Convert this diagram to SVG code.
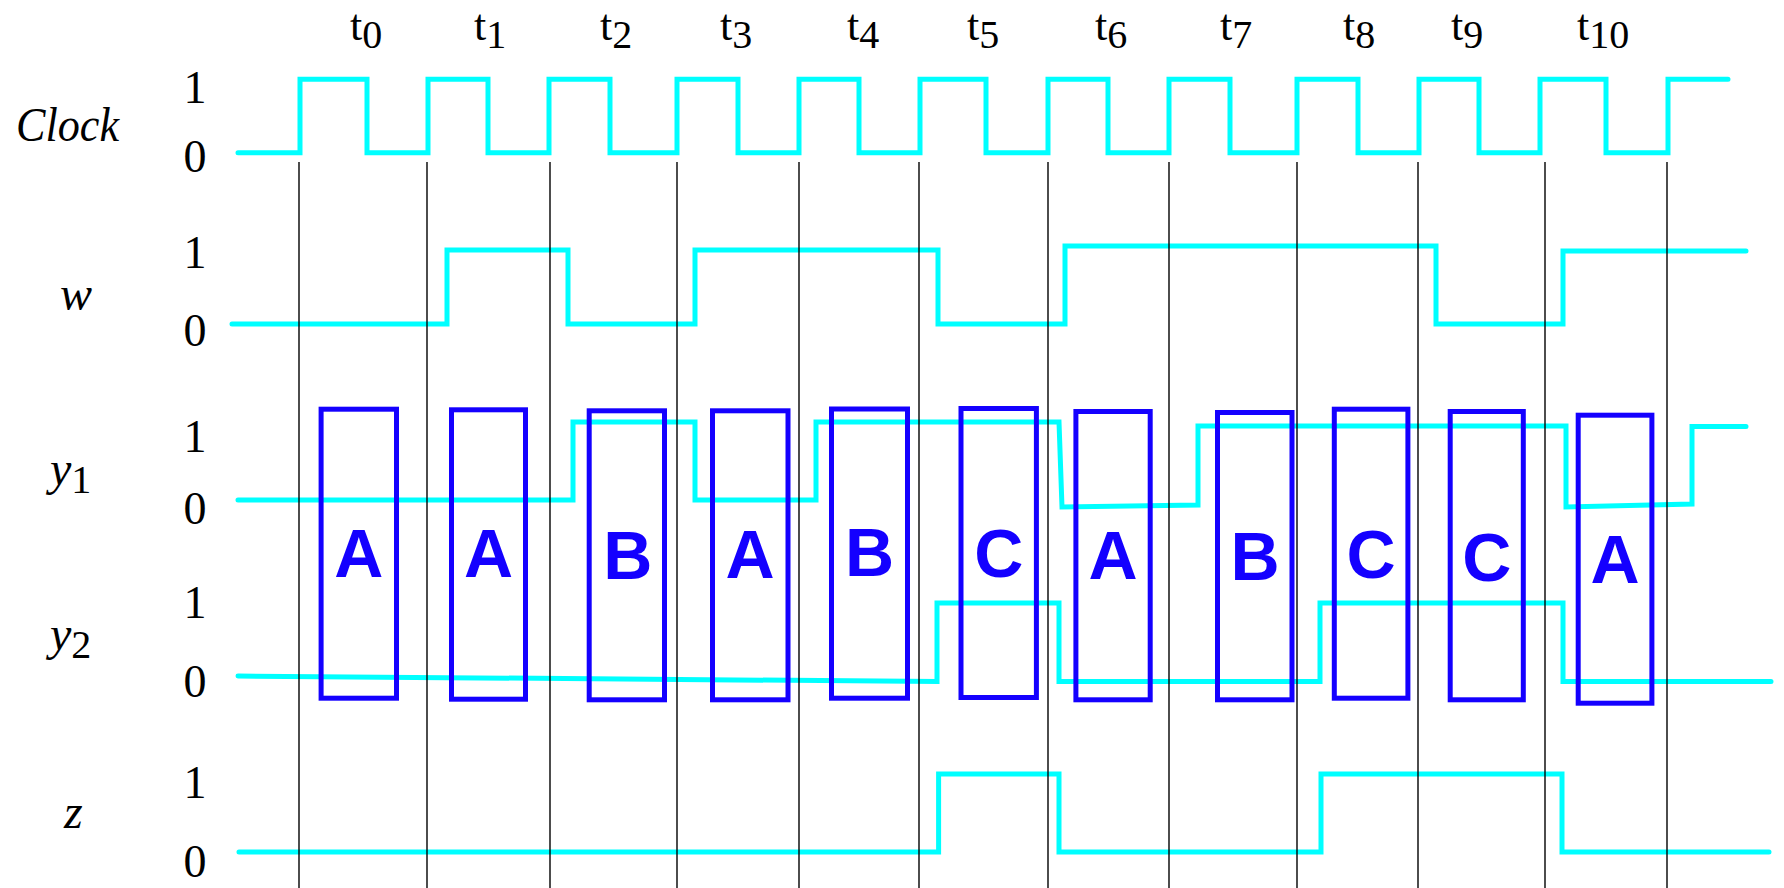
<svg xmlns="http://www.w3.org/2000/svg" width="1784" height="888" viewBox="0 0 1784 888">
<style>
.bg{fill:#ffffff}
.wave{fill:none;stroke:#00ffff;stroke-width:5;stroke-linecap:round;stroke-linejoin:miter}
.grid{stroke:#000000;stroke-width:1.4}
.box{fill:none;stroke:#1400ff;stroke-width:5}
.st{font-family:"Liberation Sans",Arial,sans-serif;font-weight:bold;font-size:68px;fill:#1400ff;text-anchor:middle}
.lvl{font-family:"Liberation Serif","Times New Roman",serif;font-size:46px;fill:#000;text-anchor:middle}
.sig{font-family:"Liberation Serif","Times New Roman",serif;font-style:italic;font-size:48px;fill:#000}
.sub{font-style:normal;font-size:40px}
.t{font-family:"Liberation Serif","Times New Roman",serif;font-size:44px;fill:#000}
.ts{font-size:40px}
</style>
<rect class="bg" x="0" y="0" width="1784" height="888"/>

<g id="time-labels">
<text class="t" x="350" y="40">t<tspan class="ts" y="48">0</tspan></text>
<text class="t" x="474" y="40">t<tspan class="ts" y="48">1</tspan></text>
<text class="t" x="600" y="40">t<tspan class="ts" y="48">2</tspan></text>
<text class="t" x="720" y="40">t<tspan class="ts" y="48">3</tspan></text>
<text class="t" x="847" y="40">t<tspan class="ts" y="48">4</tspan></text>
<text class="t" x="967" y="40">t<tspan class="ts" y="48">5</tspan></text>
<text class="t" x="1095" y="40">t<tspan class="ts" y="48">6</tspan></text>
<text class="t" x="1220" y="40">t<tspan class="ts" y="48">7</tspan></text>
<text class="t" x="1343" y="40">t<tspan class="ts" y="48">8</tspan></text>
<text class="t" x="1451" y="40">t<tspan class="ts" y="48">9</tspan></text>
<text class="t" x="1577" y="40">t<tspan class="ts" y="48">10</tspan></text>
</g>

<g id="signal-labels">
<text class="sig" x="16" y="141" textLength="103" lengthAdjust="spacingAndGlyphs">Clock</text>
<text class="sig" x="60" y="310">w</text>
<text class="sig" x="50" y="485">y<tspan class="sub" y="493">1</tspan></text>
<text class="sig" x="50" y="650">y<tspan class="sub" y="658">2</tspan></text>
<text class="sig" x="64" y="828">z</text>
</g>

<g id="level-labels">
<text class="lvl" x="195" y="103">1</text>
<text class="lvl" x="195" y="172">0</text>
<text class="lvl" x="195" y="268">1</text>
<text class="lvl" x="195" y="346">0</text>
<text class="lvl" x="195" y="452">1</text>
<text class="lvl" x="195" y="524">0</text>
<text class="lvl" x="195" y="618">1</text>
<text class="lvl" x="195" y="697">0</text>
<text class="lvl" x="195" y="798">1</text>
<text class="lvl" x="195" y="877">0</text>
</g>

<g id="waveforms">
<path id="clock" class="wave" d="M238,152.7 H300 V79.3 H367 V152.7 H428 V79.3 H488 V152.7 H549 V79.3 H610 V152.7 H677 V79.3 H738 V152.7 H799 V79.3 H859 V152.7 H920 V79.3 H986 V152.7 H1048 V79.3 H1108 V152.7 H1169 V79.3 H1230 V152.7 H1297 V79.3 H1358 V152.7 H1419 V79.3 H1479 V152.7 H1540 V79.3 H1606 V152.7 H1668 V79.3 H1728"/>
<path id="w" class="wave" d="M232,324 H447 V250 H568 V324 H695 V250 H938 V324 H1065 V246 H1436 V324 H1563 V251 H1746"/>
<path id="y1" class="wave" d="M238,500 H573 V422 H695 V500 H816 V422 H1059 L1062,507 L1198,505 V426 H1566 V507 L1692,504 V426.5 H1746"/>
<path id="y2" class="wave" d="M238,676 L937,681.5 V603 H1059 V681.5 H1320 V603 H1563 V681.5 H1771"/>
<path id="z" class="wave" d="M239,852 H938.6 V774 H1059 V852 H1321 V774 H1562 V852 H1769"/>
</g>

<g id="clock-edges">
<line class="grid" x1="299" y1="162" x2="299" y2="888"/>
<line class="grid" x1="427" y1="162" x2="427" y2="888"/>
<line class="grid" x1="550" y1="162" x2="550" y2="888"/>
<line class="grid" x1="677" y1="162" x2="677" y2="888"/>
<line class="grid" x1="799" y1="162" x2="799" y2="888"/>
<line class="grid" x1="919" y1="162" x2="919" y2="888"/>
<line class="grid" x1="1048" y1="162" x2="1048" y2="888"/>
<line class="grid" x1="1169" y1="162" x2="1169" y2="888"/>
<line class="grid" x1="1297" y1="162" x2="1297" y2="888"/>
<line class="grid" x1="1418" y1="162" x2="1418" y2="888"/>
<line class="grid" x1="1545" y1="162" x2="1545" y2="888"/>
<line class="grid" x1="1667" y1="162" x2="1667" y2="888"/>
</g>

<g id="state-0"><rect class="box" x="321.1" y="409.2" width="75.4" height="289"/><text class="st" x="358.8" y="577">A</text></g>
<g id="state-1"><rect class="box" x="451.5" y="409.8" width="74" height="289.4"/><text class="st" x="488.5" y="577">A</text></g>
<g id="state-2"><rect class="box" x="589.2" y="410.8" width="75.3" height="289"/><text class="st" x="627.8" y="579">B</text></g>
<g id="state-3"><rect class="box" x="712.5" y="410.8" width="75.5" height="289"/><text class="st" x="750" y="578">A</text></g>
<g id="state-4"><rect class="box" x="831.5" y="409" width="76" height="289.2"/><text class="st" x="869.5" y="576">B</text></g>
<g id="state-5"><rect class="box" x="961" y="408.5" width="75.4" height="289"/><text class="st" x="998.8" y="577">C</text></g>
<g id="state-6"><rect class="box" x="1075.9" y="411.5" width="74.3" height="288.3"/><text class="st" x="1113" y="579">A</text></g>
<g id="state-7"><rect class="box" x="1217.5" y="412.5" width="74.5" height="287.3"/><text class="st" x="1255" y="580">B</text></g>
<g id="state-8"><rect class="box" x="1334.3" y="409.2" width="73.6" height="289"/><text class="st" x="1371" y="578">C</text></g>
<g id="state-9"><rect class="box" x="1450.2" y="411.5" width="73.1" height="288.3"/><text class="st" x="1486.7" y="580.7">C</text></g>
<g id="state-10"><rect class="box" x="1578.2" y="415.2" width="73.7" height="288"/><text class="st" x="1615" y="582.7">A</text></g>
</svg>
